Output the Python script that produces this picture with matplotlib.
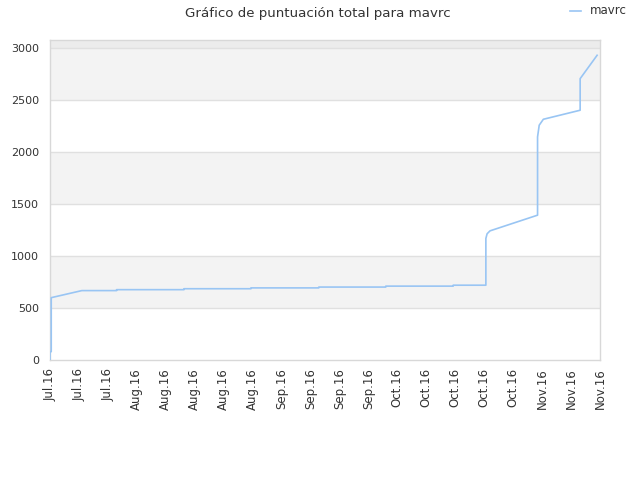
import matplotlib
matplotlib.use("Agg")
import matplotlib.pyplot as plt
from matplotlib.lines import Line2D

# Data (x in days from first tick; ticks every 7 days)
days = [0, 0, 0.3, 0.3, 7.7, 16.1, 16.1, 32.4, 32.4, 48.6, 48.6,
        65.0, 65.0, 81.2, 81.2, 97.5, 97.5, 105.4, 105.4, 105.7, 106.4,
        117.9, 117.9, 118.3, 119.3, 128.2, 128.2, 132.3]
scores = [0, 80, 80, 600, 668, 668, 677, 677, 686, 686, 694,
          694, 702, 702, 711, 711, 720, 720, 1170, 1215, 1243,
          1394, 2147, 2260, 2317, 2404, 2708, 2933]
tick_labels = ["Jul.16", "Jul.16", "Jul.16", "Aug.16", "Aug.16", "Aug.16", "Aug.16",
               "Aug.16", "Sep.16", "Sep.16", "Sep.16", "Sep.16", "Oct.16", "Oct.16",
               "Oct.16", "Oct.16", "Oct.16", "Nov.16", "Nov.16", "Nov.16"]
series_name = "mavrc"
title = "Gráfico de puntuación total para mavrc"

line_color = "#99c5f3"

fig = plt.figure(figsize=(6.4, 4.8), dpi=100)
ax = fig.add_axes([50/640, 120/480, 550/640, 320/480])

ymax = 3080
ax.set_ylim(0, ymax)
xmax = 7 * (len(tick_labels) - 1)
ax.set_xlim(0, xmax)

# alternating bands
for lo in range(0, 3000, 500):
    if (lo // 500) % 2 == 1:
        ax.axhspan(lo, lo + 500, color="#f3f3f3", zorder=0, lw=0)
ax.axhspan(3000, ymax, color="#ececec", zorder=0, lw=0)
for yv in range(500, 3001, 500):
    ax.axhline(yv, color="#e0e0e0", lw=1, zorder=1)

ax.plot(days, scores, color=line_color, lw=1.2, zorder=3, label=series_name)

ax.set_yticks(range(0, 3001, 500))
ax.set_xticks([7 * i for i in range(len(tick_labels))])
ax.set_xticklabels(tick_labels, rotation=90)
ax.tick_params(axis="x", length=0, labelsize=8.5, colors="#333333", pad=6)
ax.tick_params(axis="y", length=0, labelsize=8, colors="#333333", pad=8)

for s in ax.spines.values():
    s.set_color("#d8d8d8")
    s.set_linewidth(1)

fig.text(318/640, 1 - 13/480, title, ha="center", va="center", fontsize=9.6, color="#333333")

# legend (drawn in figure coordinates)
fig.add_artist(Line2D([570/640, 581/640], [1 - 11/480, 1 - 11/480], color=line_color, lw=1.2,
                      transform=fig.transFigure))
fig.text(590/640, 1 - 11/480, series_name, ha="left", va="center", fontsize=8.5, color="#333333")

fig.savefig("out.png", dpi=100, facecolor="white")
